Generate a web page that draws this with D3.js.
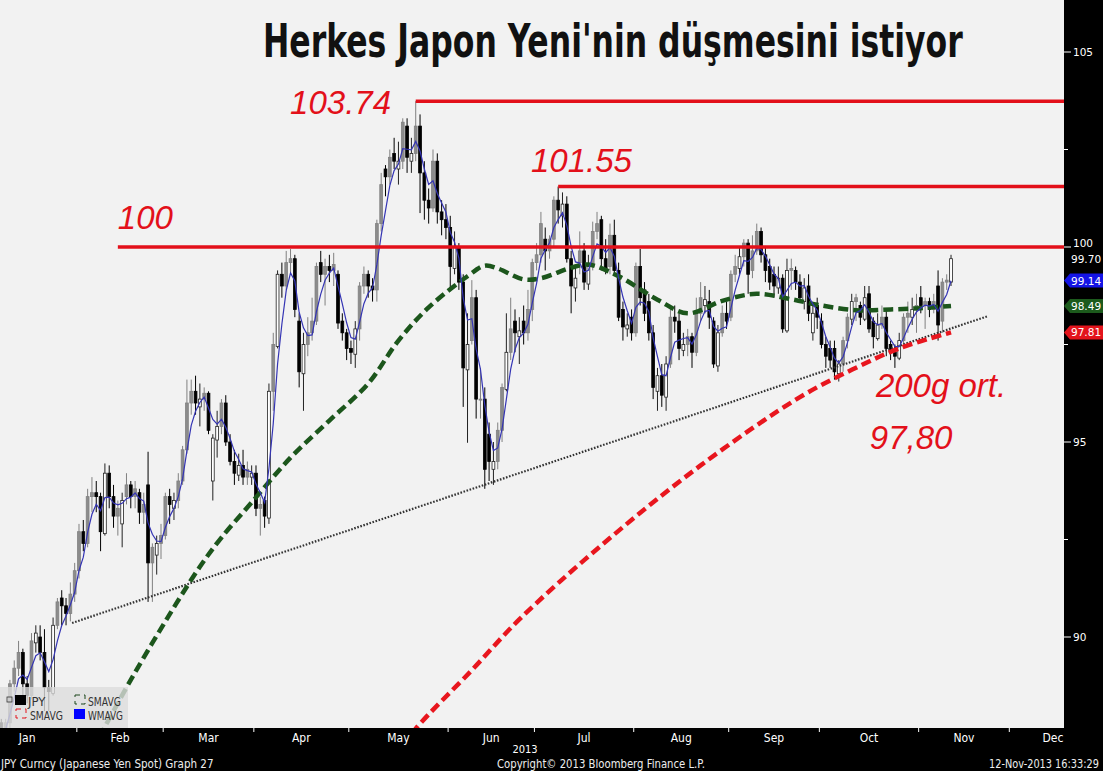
<!DOCTYPE html>
<html><head><meta charset="utf-8">
<script src="https://cdn.jsdelivr.net/npm/d3@7"></script>
<style>body{margin:0;background:#000;}svg{display:block}</style>
</head><body><svg id="c" width="1103" height="771"></svg>
<script>
// ---- DATA: USD/JPY daily candles, one per weekday from 1-Jan-2013 to 12-Nov-2013 ----
const open = [
 86.75,86.9,87.1,87.2,88.2,87.8,87.1,87.8,88.8,89.2,89.6,88.8,88.5,89.85,90.0,89.6,88.7,88.55,90.3,91.0,90.8,90.6,91.1,
 91.7,92.7,92.4,93.6,93.7,93.6,92.65,94.2,93.6,93.1,92.9,93.6,93.9,93.6,93.7,93.2,93.9,91.9,92.1,92.4,
 92.6,93.6,93.3,93.5,94.0,94.8,96.0,96.3,95.9,96.1,96.25,94.0,95.05,95.4,96.0,95.0,94.5,94.15,94.4,94.1,94.1,
 94.2,93.3,93.5,93.05,96.3,97.45,99.3,99.0,99.6,99.7,98.1,96.75,97.5,97.8,98.1,99.6,99.3,99.5,99.4,99.3,98.1,97.8,
 97.4,97.25,97.9,99.0,99.3,99.0,98.9,100.6,102.0,101.8,102.4,102.0,102.2,103.1,102.2,102.4,103.1,101.9,101.2,101.0,102.2,100.9,100.7,
 100.5,99.45,100.0,99.1,96.85,97.6,98.7,96.1,96.1,95.2,94.3,94.5,95.3,96.35,97.3,98.1,97.7,98.1,97.8,98.4,
 99.6,99.8,100.2,99.9,100.2,101.2,100.8,101.1,99.7,98.95,99.6,99.9,99.05,99.5,100.4,100.7,99.7,99.5,100.3,99.4,98.4,97.9,98.2,
 97.8,99.5,98.9,98.6,97.8,96.3,96.7,96.15,97.0,98.2,98.1,97.35,97.5,97.7,97.3,98.3,98.5,98.6,98.1,96.95,97.8,98.3,
 98.2,99.3,99.45,99.75,100.1,99.4,99.9,100.4,99.8,99.5,99.3,98.95,99.2,97.85,99.4,99.4,99.1,98.6,99.0,97.8,98.5,
 98.1,97.5,97.4,97.4,96.75,97.0,97.6,98.15,98.6,98.5,98.15,98.8,98.1,97.65,98.0,98.2,97.5,97.3,97.15,97.6,98.2,98.2,98.4,
 98.7,98.5,98.6,98.4,99.0,98.1,99.1,99.1
];
const high = [
 87.0,87.8,87.5,88.4,88.4,87.9,87.9,88.9,89.4,89.9,89.7,89.0,90.1,90.3,90.3,90.2,88.9,90.5,91.0,91.2,91.0,91.4,91.9,
 92.9,93.0,93.8,94.1,94.0,93.7,94.45,94.4,93.9,93.5,93.7,94.2,94.0,94.0,93.8,93.7,94.75,92.4,92.6,92.9,
 93.7,93.8,93.7,94.2,94.9,96.6,96.6,96.7,96.5,96.4,96.3,95.2,95.8,96.1,96.2,95.2,94.8,94.7,94.8,94.5,94.4,
 94.4,93.6,93.6,96.5,97.8,99.4,99.6,99.9,99.95,99.8,98.3,97.8,98.2,98.7,99.6,99.9,99.7,99.8,99.85,99.4,98.3,97.9,
 97.6,98.1,99.1,99.5,99.4,99.2,100.7,101.9,102.1,102.5,102.8,102.7,103.3,103.3,102.8,103.74,103.4,102.2,101.5,102.5,102.4,101.2,101.1,
 100.8,100.4,100.1,99.3,98.3,99.15,98.9,96.9,96.4,95.5,95.0,95.5,96.5,98.3,98.7,98.4,98.2,98.5,98.9,99.7,
 100.1,100.9,100.5,100.3,101.3,101.55,101.4,101.3,99.9,99.5,100.4,100.1,99.8,100.65,100.9,100.8,100.2,100.6,100.7,99.6,98.6,98.3,98.4,
 99.6,99.95,99.1,98.8,98.0,96.9,97.0,97.2,98.5,98.5,98.3,97.8,97.9,97.8,98.7,99.1,99.0,98.9,98.2,98.0,98.5,98.6,
 99.4,99.8,100.0,100.2,100.2,100.3,100.6,100.5,100.0,99.7,99.5,99.5,99.3,99.7,99.7,99.5,99.3,99.2,99.3,98.5,98.7,
 98.3,97.7,97.6,97.6,97.1,97.7,98.3,98.8,98.8,98.6,99.0,99.0,98.2,98.3,98.5,98.4,97.6,97.5,97.8,98.3,98.6,98.7,98.8,
 99.0,98.7,98.7,98.8,99.4,99.2,99.3,99.8
];
const low = [
 86.5,86.6,86.8,87.0,87.6,86.8,87.0,87.6,88.6,89.0,88.5,88.3,88.4,89.6,89.4,88.1,88.1,88.5,90.2,90.3,90.3,90.4,90.9,
 91.5,92.2,92.3,93.2,93.2,92.2,92.6,93.3,92.8,92.6,92.3,93.4,93.3,93.3,92.9,92.9,90.9,90.9,91.6,92.0,
 92.5,92.9,93.0,93.3,93.9,94.7,95.7,95.7,95.4,95.8,95.2,93.5,94.6,95.2,94.9,94.4,93.9,94.0,93.9,93.9,93.9,
 93.1,92.6,92.8,92.9,95.8,97.4,98.7,98.9,99.3,98.2,96.4,95.8,97.2,97.6,98.0,99.1,98.5,99.1,99.0,97.9,97.6,97.1,
 97.0,96.9,97.6,98.8,98.7,98.6,98.6,100.4,101.3,101.6,102.0,101.6,102.0,101.9,101.9,102.2,100.87,100.7,100.6,100.9,100.6,100.3,100.2,
 98.9,99.3,98.9,95.9,94.98,97.5,95.6,95.6,93.8,94.0,93.9,94.3,95.0,96.3,97.1,97.3,97.0,97.5,97.6,98.1,
 99.4,99.6,99.4,99.7,100.0,100.6,100.5,99.6,98.3,98.6,99.3,98.9,98.9,99.4,100.2,99.4,99.3,99.3,99.3,98.1,97.6,97.7,97.6,
 97.7,98.5,98.1,97.6,96.1,95.8,95.9,95.8,96.9,97.8,97.1,97.2,97.2,96.9,97.2,98.1,98.3,97.9,96.9,96.8,97.7,97.9,
 98.1,99.1,99.3,99.5,98.8,99.2,99.8,99.6,99.1,98.9,98.7,98.8,97.8,97.8,98.9,98.9,98.6,98.4,98.1,97.6,97.9,
 97.4,96.9,96.9,96.6,96.55,96.8,97.4,98.0,98.1,98.0,98.1,97.8,97.4,97.6,97.9,97.2,97.1,96.9,97.1,97.5,97.8,98.0,97.8,
 98.3,97.9,98.2,98.3,97.6,97.8,98.9,99.0
];
const close = [
 86.9,87.1,87.2,88.2,87.8,87.1,87.8,88.8,89.2,89.6,88.8,88.5,89.9,90.1,89.6,88.7,88.6,90.3,90.9,90.8,90.6,91.1,91.7,
 92.7,92.4,93.6,93.7,93.6,92.7,94.2,93.6,93.1,93.3,93.5,93.9,93.6,93.8,93.2,93.4,91.9,92.3,92.4,92.6,
 93.6,93.4,93.5,94.0,94.8,96.0,96.3,96.0,96.1,96.25,95.3,95.1,95.4,96.0,95.0,94.5,94.2,94.4,94.1,94.3,94.2,
 93.3,93.4,93.1,96.3,97.5,99.3,99.0,99.6,99.7,98.4,96.8,97.5,97.8,98.1,99.5,99.3,99.5,99.4,99.55,98.05,97.8,97.4,
 97.3,97.9,99.0,99.3,99.0,98.9,100.6,101.6,101.8,102.3,102.2,102.2,103.2,102.3,102.4,103.1,101.9,101.2,101.0,102.2,100.9,100.7,100.5,
 99.5,100.0,99.1,96.9,97.5,98.7,96.1,96.1,94.3,94.5,94.5,95.3,96.4,97.3,97.9,97.8,97.85,97.8,98.4,99.6,
 99.8,100.6,99.9,100.2,101.2,100.95,101.1,99.7,99.0,99.2,99.9,99.1,99.5,100.4,100.6,99.7,99.4,100.3,99.4,98.2,97.95,98.0,97.8,
 99.5,98.7,98.3,97.8,96.4,96.7,96.2,97.0,98.2,98.1,97.4,97.5,97.7,97.3,98.3,98.7,98.65,98.2,97.0,97.8,98.3,98.1,
 99.3,99.5,99.75,100.1,99.3,99.9,100.4,99.8,99.4,99.1,99.0,99.2,97.9,99.4,99.45,99.1,98.7,98.95,98.3,98.3,98.2,
 97.5,97.2,97.1,96.8,97.0,97.6,98.2,98.6,98.7,98.2,98.7,97.9,97.7,98.0,98.2,97.4,97.3,97.2,97.6,98.2,98.3,98.4,98.5,
 98.5,98.6,98.4,98.6,98.0,99.1,99.15,99.7
];
// 50-day simple moving average (green) at sample days
const sma50Day = [26,29,35,43,51,56,63,72,81,90,97,104,113,117,120,126,130,137,141,148,157,164,172,180,188,195,203,211,218,225];
const sma50Val = [87.1,87.7,88.9,90.4,91.8,92.55,93.45,94.6,95.55,96.5,97.6,98.45,99.25,99.52,99.45,99.17,99.2,99.47,99.55,99.25,98.65,98.3,98.62,98.8,98.66,98.5,98.38,98.4,98.43,98.49];
// 200-day simple moving average (red) at sample days
const sma200Day = [96,101,114,125,144,167,190,202,213,225];
const sma200Val = [86.9,87.65,89.15,90.45,92.35,94.4,96.15,96.85,97.4,97.81];
// support trend line (dotted)
const trendDay = [21.4,233.6];
const trendVal = [90.36,98.23];
// horizontal resistance levels
const levelVal = [103.74,101.55,100];
const levelStartDay = [101,134,32];
const levelLabel = ["103.74","101.55","100"];
// other annotations
const noteText = ["200g ort.","97,80"];
// right axis
const yTicks = [105,100,95,90];
const yMinor = [102.5,97.5,92.5];
const lastTags = [
 {v:99.70, txt:"99.70", bg:null},
 {v:99.14, txt:"99.14", bg:"#1414e6"},
 {v:98.49, txt:"98.49", bg:"#1c5a1c"},
 {v:97.81, txt:"97.81", bg:"#e3141c"}
];
const monthNames = ["Jan","Feb","Mar","Apr","May","Jun","Jul","Aug","Sep","Oct","Nov","Dec"];
const titleText = "Herkes Japon Yeni'nin düşmesini istiyor";

// ---- LAYOUT ----
const PW = 1064, PH = 728;
const svg = d3.select("#c");
const x = d3.scaleLinear().domain([0,250]).range([-20.3, -20.3 + 250*4.317]);
const y = d3.scaleLinear().domain([100 - 481/39, 100 + 247/39]).range([PH, 0]);

// squeeze a text horizontally to a target width (keeps its height)
function fitText(sel, x0, y0, width){
  const w = sel.node().getComputedTextLength();
  const s = w > 0 ? Math.min(1, width / w) : 1;
  sel.attr("x",0).attr("y",0).attr("transform",`translate(${x0},${y0}) scale(${s},1)`);
}

// weekdays of 2013 -> month boundaries
const days = d3.timeDay.range(new Date(2013,0,1), new Date(2014,0,1)).filter(d => d.getDay() % 6 !== 0);
const monthStart = [];
days.forEach((d,i) => { if (i === 0 || d.getMonth() !== days[i-1].getMonth()) monthStart.push(i); });
monthStart.push(days.length);

svg.append("rect").attr("width",1103).attr("height",771).attr("fill","#000");
svg.append("rect").attr("width",PW).attr("height",PH).attr("fill","#f2f2f2");
svg.append("clipPath").attr("id","clip").append("rect").attr("width",PW).attr("height",PH);
const plot = svg.append("g").attr("clip-path","url(#clip)");

// candles
const idx = d3.range(close.length);
function style(i){
  if (close[i] < open[i]) return {fill:"#000", stroke:"#000"};
  const prev = i > 0 ? close[i-1] : open[i];
  if (open[i] < prev) return {fill:"#fff", stroke:"#222"};
  return {fill:"#8c8c8c", stroke:"#808080"};
}
const cg = plot.append("g");
cg.selectAll("line.w").data(idx).join("line")
  .attr("x1", i => x(i)).attr("x2", i => x(i))
  .attr("y1", i => y(high[i])).attr("y2", i => y(low[i]))
  .attr("stroke", i => style(i).stroke).attr("stroke-width", 1);
cg.selectAll("rect.b").data(idx).join("rect")
  .attr("x", i => x(i) - 1.4).attr("width", 2.8)
  .attr("y", i => y(Math.max(open[i], close[i])))
  .attr("height", i => Math.max(1, Math.abs(y(open[i]) - y(close[i]))))
  .attr("fill", i => style(i).fill).attr("stroke", i => style(i).stroke).attr("stroke-width", 0.8);

// legend box (semi transparent, under lines)
svg.append("rect").attr("x",0).attr("y",687).attr("width",128).attr("height",41)
  .attr("fill","#dcdcdc").attr("opacity",0.8);

// trend line
plot.append("line")
  .attr("x1", x(trendDay[0])).attr("y1", y(trendVal[0]))
  .attr("x2", x(trendDay[1])).attr("y2", y(trendVal[1]))
  .attr("stroke","#333").attr("stroke-width",2.2).attr("stroke-dasharray","1.6,1.6");

// moving averages
const smaLine = d3.line().x(d => x(d[0])).y(d => y(d[1])).curve(d3.curveCatmullRom);
plot.append("path").attr("d", smaLine(sma200Day.map((d,k)=>[d, sma200Val[k]])))
  .attr("fill","none").attr("stroke","#e8161e").attr("stroke-width",4.5).attr("stroke-dasharray","10,5");
plot.append("path").attr("d", smaLine(sma50Day.map((d,k)=>[d, sma50Val[k]])))
  .attr("fill","none").attr("stroke","#1c561c").attr("stroke-width",4.5).attr("stroke-dasharray","10,5");

// 5-day weighted moving average of the closes (blue)
const wma = idx.filter(i => i >= 4).map(i => {
  let s = 0; for (let k = 0; k < 5; k++) s += (5-k) * close[i-k];
  return [i, s/15];
});
plot.append("path").attr("d", d3.line().x(d=>x(d[0])).y(d=>y(d[1]))(wma))
  .attr("fill","none").attr("stroke","#3434b4").attr("stroke-width",1.2);

// resistance levels
plot.selectAll("line.lvl").data(levelVal).join("line")
  .attr("x1",(v,k)=>x(levelStartDay[k])).attr("x2",PW)
  .attr("y1",v=>y(v)).attr("y2",v=>y(v))
  .attr("stroke","#e3101a").attr("stroke-width",3.5);

// red italic annotations
const noteFont = "'Liberation Sans', Arial, sans-serif";
const notes = [
  {t:levelLabel[0], xi:71.9, v:103.41},
  {t:levelLabel[1], xi:127.7, v:101.92},
  {t:levelLabel[2], xi:32.0, v:100.46},
  {t:noteText[0], xi:207.6, v:96.15},
  {t:noteText[1], xi:206.2, v:94.81}
];
svg.selectAll("text.note").data(notes).join("text")
  .attr("x", d => x(d.xi)).attr("y", d => y(d.v))
  .attr("font-family", noteFont).attr("font-style","italic").attr("font-size",33)
  .attr("fill","#e3101a").text(d => d.t);

// legend items
const lg = svg.append("g").attr("font-family","'Liberation Sans Narrow','DejaVu Sans Condensed',sans-serif").attr("font-size",13).attr("fill","#333");
lg.append("rect").attr("x",7).attr("y",697).attr("width",5).attr("height",5).attr("fill","none").attr("stroke","#333").attr("stroke-width",0.8);
lg.append("rect").attr("x",15).attr("y",695).attr("width",11).attr("height",10).attr("fill","#000");
fitText(lg.append("text").text("JPY"), 28, 706, 20);
lg.append("rect").attr("x",16).attr("y",709).attr("width",10).attr("height",9).attr("fill","none").attr("stroke","#e3141c").attr("stroke-width",1).attr("stroke-dasharray","5,4");
fitText(lg.append("text").text("SMAVG"), 30, 720, 33);
lg.append("rect").attr("x",75).attr("y",695).attr("width",10).attr("height",9).attr("fill","none").attr("stroke","#1c461c").attr("stroke-width",1).attr("stroke-dasharray","5,4");
fitText(lg.append("text").text("SMAVG"), 88, 706, 33);
lg.append("rect").attr("x",74).attr("y",709).attr("width",11).attr("height",10).attr("fill","#0000ff");
fitText(lg.append("text").text("WMAVG"), 88, 720, 35);

// title
const title = svg.append("text")
  .attr("font-family","'Liberation Sans Narrow','Arial Narrow','DejaVu Sans Condensed',sans-serif")
  .attr("font-weight","bold").attr("font-size",46)
  .attr("fill","#111").text(titleText);
fitText(title, 263, 57, 700);

// right axis
const ax = svg.append("g").attr("font-family","'DejaVu Sans', sans-serif").attr("font-size",10.5);
ax.selectAll("line.mj").data(yTicks).join("line")
  .attr("x1",PW).attr("x2",PW+7).attr("y1",v=>y(v)).attr("y2",v=>y(v)).attr("stroke","#fff");
ax.selectAll("line.mn").data(yMinor).join("line")
  .attr("x1",PW).attr("x2",PW+4).attr("y1",v=>y(v)).attr("y2",v=>y(v)).attr("stroke","#fff");
ax.selectAll("text.tk").data(yTicks).join("text")
  .attr("x",PW+9).attr("y",v=>y(v)+ (v===100 ? 0 : 4)).attr("fill","#fff").text(v=>v);
lastTags.forEach(t => {
  const yy = y(t.v);
  if (t.bg) ax.append("path")
    .attr("d",`M${PW},${yy} L${PW+6},${yy-7} L1103,${yy-7} L1103,${yy+7} L${PW+6},${yy+7} Z`)
    .attr("fill",t.bg);
  ax.append("text").attr("x",PW+7).attr("y",yy+4).attr("fill","#fff").text(t.txt);
});

// bottom axis
const bx = svg.append("g").attr("font-family","'Liberation Sans Narrow','DejaVu Sans Condensed',sans-serif").attr("font-size",12).attr("fill","#fff");
bx.selectAll("line.mt").data(monthStart.slice(1,-1)).join("line")
  .attr("x1",i=>x(i-0.5)).attr("x2",i=>x(i-0.5)).attr("y1",PH).attr("y2",PH+4).attr("stroke","#fff");
bx.selectAll("text.mo").data(monthNames).join("text")
  .attr("x",(m,k)=>Math.min(x((monthStart[k]+monthStart[k+1]-1)/2), 1053))
  .attr("y",PH+14).attr("text-anchor","middle").text(m=>m);
bx.append("text").attr("x",525).attr("y",PH+25).attr("font-size",11).attr("text-anchor","middle").text("2013");
const fx = svg.append("g").attr("font-family","'Liberation Sans Narrow','DejaVu Sans Condensed',sans-serif").attr("font-size",11.5).attr("fill","#eee");
fitText(fx.append("text").text("JPY Curncy (Japanese Yen Spot) Graph 27"), 1, 768, 216);
fitText(fx.append("text").text("Copyright\u00a9 2013 Bloomberg Finance L.P."), 497, 768, 208);
fitText(fx.append("text").text("12-Nov-2013 16:33:29"), 989, 768, 110);
</script></body></html>
